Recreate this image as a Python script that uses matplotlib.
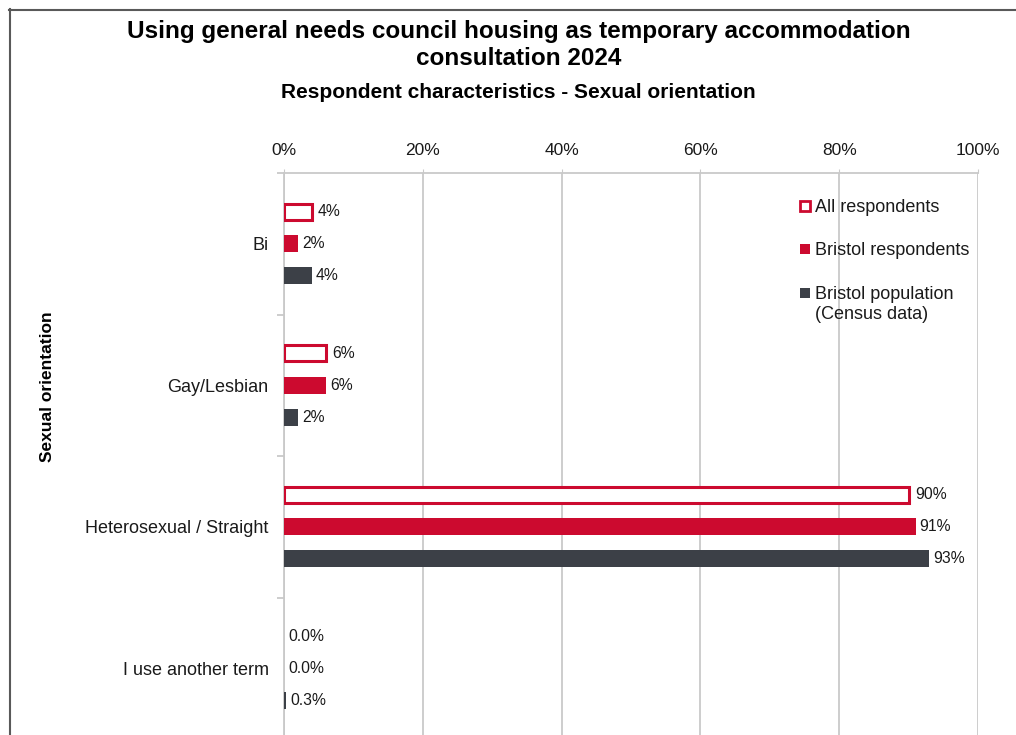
import matplotlib
matplotlib.use("Agg")
import matplotlib.pyplot as plt
from matplotlib.patches import Rectangle
from matplotlib.lines import Line2D
import numpy as np

plt.rcParams["font.family"] = ["Liberation Sans", "DejaVu Sans"]

categories = ["Bi", "Gay/Lesbian", "Heterosexual / Straight", "I use another term"]
series_names = ["All respondents", "Bristol respondents", "Bristol population\n(Census data)"]
all_respondents = [4, 6, 90, 0.0]
bristol_respondents = [2, 6, 91, 0.0]
bristol_population = [4, 2, 93, 0.3]
label_decimals = [0, 0, 0, 1]
x_ticks = [0, 20, 40, 60, 80, 100]

red = "#cc0a2f"
dark = "#3c4047"
grid_grey = "#c9c9c9"
text_col = "#1a1a1a"

W, H = 1016, 735
fig = plt.figure(figsize=(W / 100, H / 100), dpi=100)
fig.patch.set_facecolor("white")

# axes box in pixel terms: left 284, right 978, top 173, bottom 739
ax = fig.add_axes([284 / W, 1 - 739 / H, (978 - 284) / W, (739 - 173) / H])

y = np.arange(len(categories))
offset = 0.226
bar_h = 0.12

# hollow bars get no outline when the value is zero
outline_w = [2.2 if v > 0 else 0 for v in all_respondents]
ax.barh(y - offset, all_respondents, height=0.113, color="white",
        edgecolor=red, linewidth=outline_w, zorder=3)
ax.barh(y, bristol_respondents, height=bar_h, color=red, zorder=3)
ax.barh(y + offset, bristol_population, height=bar_h, color=dark, zorder=3)

for vals, shift, pad in [(all_respondents, -offset, 4.5),
                         (bristol_respondents, 0, 3),
                         (bristol_population, offset, 3)]:
    for i, v in enumerate(vals):
        p = pad if v > 0 else 3
        ax.annotate(f"{v:.{label_decimals[i]}f}%", (v, i + shift),
                    xytext=(p, 0), textcoords="offset points",
                    ha="left", va="center", fontsize=11.3, color=text_col)

ax.set_xlim(0, 100)
ax.set_ylim(len(categories) - 0.5, -0.5)

ax.xaxis.tick_top()
ax.set_xticks(x_ticks)
ax.set_xticklabels([f"{t}%" for t in x_ticks])
ax.tick_params(axis="x", length=3, color=grid_grey, pad=8,
               labelsize=12.5, labelcolor=text_col)
ax.grid(axis="x", color=grid_grey, linewidth=1.3, zorder=0)

ax.set_yticks(y)
ax.set_yticklabels(categories)
ax.set_yticks(np.arange(len(categories) + 1) - 0.5, minor=True)
ax.tick_params(axis="y", which="major", length=0, pad=11,
               labelsize=13, labelcolor=text_col)
ax.tick_params(axis="y", which="minor", length=5, color=grid_grey, width=1.3)

for side in ["right", "bottom"]:
    ax.spines[side].set_visible(False)
for side in ["left", "top"]:
    ax.spines[side].set_color(grid_grey)
    ax.spines[side].set_linewidth(1.3)

# legend drawn in axes fraction
ax_w, ax_h = 978 - 284, 739 - 173
sq = 10
legend_rows = [206, 249, 293]
styles = [dict(facecolor="white", edgecolor=red, linewidth=2.0),
          dict(facecolor=red, edgecolor="none"),
          dict(facecolor=dark, edgecolor="none")]
for name, row, st in zip(series_names, legend_rows, styles):
    yf = 1 - (row - 173) / ax_h
    ax.add_patch(Rectangle(((800 - 284) / ax_w, yf - sq / 2 / ax_h),
                           sq / ax_w, sq / ax_h, transform=ax.transAxes,
                           clip_on=False, zorder=5, **st))
    ax.text((815 - 284) / ax_w, yf + 7 / ax_h, name, transform=ax.transAxes,
            ha="left", va="top", fontsize=13, color=text_col,
            linespacing=1.25, zorder=5)

# titles
fig.text(0.5 * (128 + 910) / W, 1 - 45 / H,
         "Using general needs council housing as temporary accommodation\nconsultation 2024",
         ha="center", va="center", fontsize=17.5, fontweight="bold",
         color="black", linespacing=1.22)
fig.text(518 / W, 1 - 92 / H, "Respondent characteristics - Sexual orientation",
         ha="center", va="center", fontsize=15, fontweight="bold", color="black")
fig.text(48 / W, 1 - 387 / H, "Sexual orientation", rotation=90,
         ha="center", va="center", fontsize=12.5, fontweight="bold", color="black")

# outer frame, left and top edges
frame_col = "#595959"
fig.add_artist(Line2D([9.5 / W, 9.5 / W], [0, 1 - 9 / H], color=frame_col,
                      linewidth=1.5, transform=fig.transFigure))
fig.add_artist(Line2D([9 / W, 1], [1 - 10 / H, 1 - 10 / H], color=frame_col,
                      linewidth=1.5, transform=fig.transFigure))

fig.savefig("out.png", dpi=100)
